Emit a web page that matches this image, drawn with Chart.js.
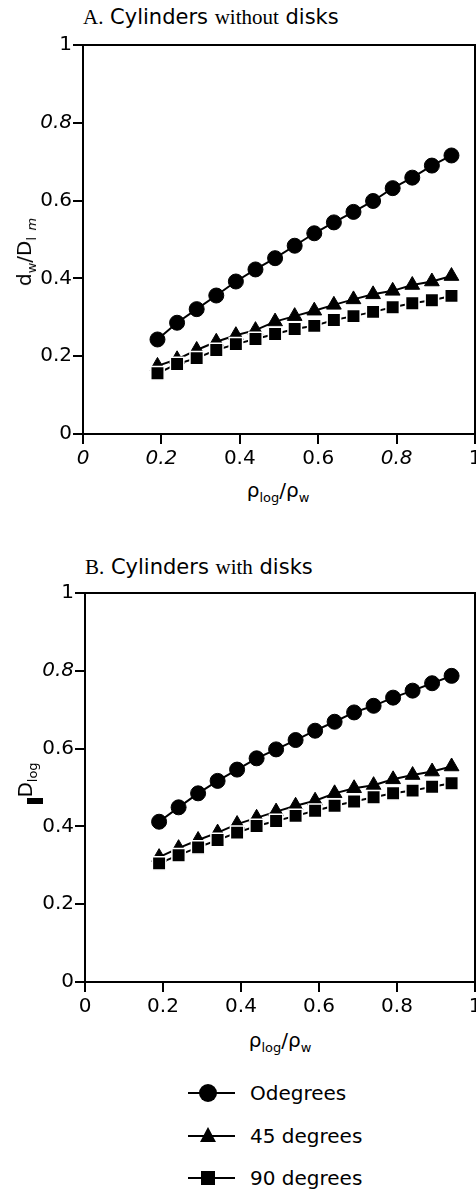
<!DOCTYPE html>
<html>
<head>
<meta charset="utf-8">
<script src="https://cdn.jsdelivr.net/npm/chart.js@4.4.0/dist/chart.umd.min.js"></script>
<style>
  html, body { margin: 0; padding: 0; background: #fff; overflow: hidden; width: 476px; height: 1191px; }
  body { position: relative; font-family: "DejaVu Sans", sans-serif; color: #000; }
  canvas { position: absolute; left: 0; }
  .abs { position: absolute; white-space: nowrap; }
  .ttl { font-size: 21px; line-height: 24px; }
  .serif { font-family: "Liberation Serif", "Times New Roman", serif; }
  .xt { font-size: 20px; line-height: 24px; transform: translate(-50%, -50%); }
  .yt { font-size: 20px; line-height: 24px; transform: translate(-50%, -50%) rotate(-90deg); }
  sub { font-size: 13px; vertical-align: -5px; line-height: 0; }
  .leg { font-size: 20px; line-height: 24px; left: 250px; transform: translateY(-50%); }
</style>
</head>
<body>

<div class="abs ttl" style="left:83px; top:5px;"><span class="serif">A.</span> Cylinders <span class="serif">without</span> disks</div>
<canvas id="chartA" width="520" height="470" style="top:0px; width:520px; height:470px;"></canvas>
<div class="abs yt" style="left:24px; top:252px;">d<sub>w</sub>/D<sub>l</sub>&nbsp;<sub><i>m</i></sub></div>
<div class="abs xt" style="left:278px; top:490px;">ρ<sub>log</sub>/ρ<sub>w</sub></div>

<div class="abs ttl" style="left:85px; top:555px;"><span class="serif">B.</span> Cylinders <span class="serif">with</span> disks</div>
<canvas id="chartB" width="520" height="470" style="top:548px; width:520px; height:470px;"></canvas>
<div class="abs yt" style="left:25px; top:780px;">D<sub>log</sub></div>
<div class="abs" style="left:27px; top:798px; width:16px; height:6px; background:#000;"></div>
<div class="abs xt" style="left:280px; top:1040px;">ρ<sub>log</sub>/ρ<sub>w</sub></div>

<svg class="abs" style="left:180px; top:1075px;" width="64" height="120">
  <line x1="8" y1="18" x2="55" y2="18" stroke="#000" stroke-width="2"/>
  <circle cx="28" cy="18" r="9" fill="#000"/>
  <line x1="8" y1="61" x2="55" y2="61" stroke="#000" stroke-width="2"/>
  <polygon points="28,52 36,67 20,67" fill="#000"/>
  <line x1="8" y1="103" x2="55" y2="103" stroke="#000" stroke-width="2"/>
  <rect x="21" y="96" width="14" height="14" fill="#000"/>
</svg>
<div class="abs leg" id="leg0" style="top:1093px;"></div>
<div class="abs leg" id="leg1" style="top:1136px;"></div>
<div class="abs leg" id="leg2" style="top:1178px;"></div>

<script>
// density ratio on the x axis, same for every series
const xValues = [0.19, 0.24, 0.29, 0.34, 0.39, 0.44, 0.49, 0.54, 0.59, 0.64, 0.69, 0.74, 0.79, 0.84, 0.89, 0.94];

// A. Cylinders without disks
const aDeg0  = [0.243, 0.286, 0.321, 0.356, 0.392, 0.423, 0.452, 0.484, 0.516, 0.544, 0.571, 0.599, 0.632, 0.659, 0.690, 0.716];
const aDeg45 = [0.175, 0.192, 0.216, 0.237, 0.254, 0.267, 0.289, 0.303, 0.317, 0.332, 0.346, 0.359, 0.368, 0.383, 0.392, 0.406];
const aDeg90 = [0.156, 0.180, 0.195, 0.216, 0.231, 0.244, 0.257, 0.270, 0.278, 0.293, 0.303, 0.314, 0.326, 0.336, 0.344, 0.355];

// B. Cylinders with disks
const bDeg0  = [0.412, 0.449, 0.485, 0.517, 0.546, 0.575, 0.598, 0.622, 0.646, 0.669, 0.693, 0.710, 0.731, 0.749, 0.768, 0.787];
const bDeg45 = [0.321, 0.344, 0.365, 0.384, 0.406, 0.422, 0.438, 0.453, 0.466, 0.485, 0.498, 0.506, 0.521, 0.532, 0.541, 0.554];
const bDeg90 = [0.305, 0.326, 0.346, 0.365, 0.384, 0.401, 0.414, 0.427, 0.440, 0.453, 0.464, 0.475, 0.485, 0.492, 0.502, 0.511];

const seriesNames = ["Odegrees", "45 degrees", "90 degrees"];
const tickLabels = ["0", "0.2", "0.4", "0.6", "0.8", "1"];

seriesNames.forEach((n, i) => { document.getElementById("leg" + i).textContent = n; });

// closes the box on the top and right sides
const framePlugin = {
  id: "frame",
  afterDraw(chart) {
    const { ctx, chartArea: a } = chart;
    ctx.save();
    ctx.strokeStyle = "#000";
    ctx.lineWidth = 2;
    ctx.strokeRect(a.left, a.top, a.right - a.left, a.bottom - a.top);
    ctx.restore();
  },
};

const pts = (ys) => ys.map((y, i) => ({ x: xValues[i], y }));

function makePanel(canvas, [s0, s45, s90], { yAxisWidth, italicX = [], italicY = [] }) {
  const tickFont = (italic) => (ctx) => ({
    family: "'DejaVu Sans', sans-serif",
    size: 20,
    style: italic.includes(ctx.index) ? "italic" : "normal",
  });
  const common = { borderColor: "#000", backgroundColor: "#000", borderWidth: 2, tension: 0, pointBackgroundColor: "#000" };
  return new Chart(canvas, {
    type: "line",
    data: {
      datasets: [
        { ...common, label: seriesNames[0], data: pts(s0), pointStyle: "circle", pointRadius: 7.5, pointBorderColor: "#000", pointBorderWidth: 1, order: 2 },
        { ...common, label: seriesNames[1], data: pts(s45), pointStyle: "triangle", pointRadius: 8.5, pointBorderColor: "#000", pointBorderWidth: 1, order: 1 },
        { ...common, label: seriesNames[2], data: pts(s90), pointStyle: "rect", pointRadius: 9.5, pointBorderColor: "#fff", pointBorderWidth: 1.5, order: 0 },
      ],
    },
    options: {
      responsive: false,
      animation: false,
      layout: { padding: { top: 45, right: 45, left: 0, bottom: 0 } },
      scales: {
        x: {
          type: "linear", min: 0, max: 1,
          grid: { display: true, drawOnChartArea: false, tickLength: 10, lineWidth: 2, color: "#000" },
          border: { display: true, width: 2, color: "#000" },
          ticks: { stepSize: 0.2, padding: 3, color: "#000", maxRotation: 0, font: tickFont(italicX),
                   callback: (v) => tickLabels[Math.round(v / 0.2)] },
          afterFit: (s) => { s.height = 36; },
        },
        y: {
          min: 0, max: 1,
          grid: { display: true, drawOnChartArea: false, tickLength: 10, lineWidth: 2, color: "#000" },
          border: { display: true, width: 2, color: "#000" },
          ticks: { stepSize: 0.2, padding: 1, color: "#000", font: tickFont(italicY),
                   callback: (v) => tickLabels[Math.round(v / 0.2)] },
          afterFit: (s) => { s.width = yAxisWidth; },
        },
      },
      plugins: { legend: { display: false }, tooltip: { enabled: false }, title: { display: false } },
    },
    plugins: [framePlugin],
  });
}

makePanel(document.getElementById("chartA"), [aDeg0, aDeg45, aDeg90], { yAxisWidth: 83, italicX: [0, 1, 4], italicY: [4] });
makePanel(document.getElementById("chartB"), [bDeg0, bDeg45, bDeg90], { yAxisWidth: 85, italicY: [4] });
</script>
</body>
</html>
